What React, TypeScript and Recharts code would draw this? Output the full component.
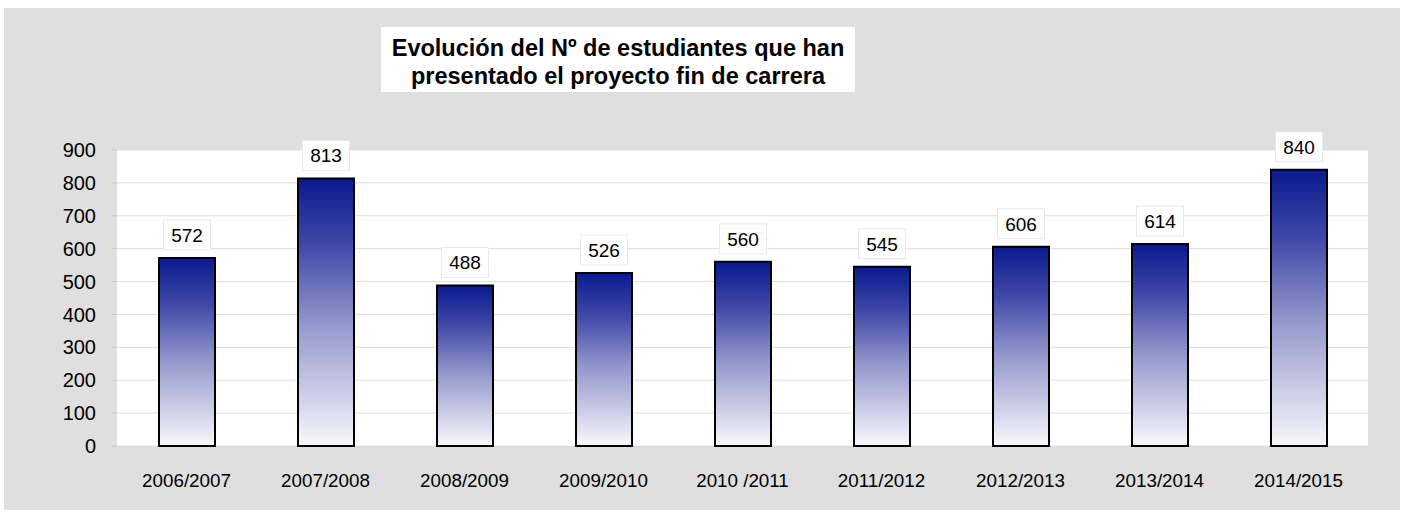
import React from "react";
import { BarChart, Bar, XAxis, YAxis, CartesianGrid, LabelList } from "recharts";

const seasons = [
  "2006/2007",
  "2007/2008",
  "2008/2009",
  "2009/2010",
  "2010 /2011",
  "2011/2012",
  "2012/2013",
  "2013/2014",
  "2014/2015",
];
const students = [572, 813, 488, 526, 560, 545, 606, 614, 840];
const yTicks = [0, 100, 200, 300, 400, 500, 600, 700, 800, 900];
const boundaryTicks = [0, 1, 2, 3, 4, 5, 6, 7, 8, 9];

const data = seasons.map((s, i) => ({ season: s, value: students[i] }));

const FONT = '"Liberation Sans", Arial, Helvetica, sans-serif';

function ValueBox(props: any) {
  const { x, y, width, value } = props;
  const cx = x + width / 2;
  const w = 47;
  const h = 30;
  const top = y - 8 - h;
  return (
    <g>
      <rect x={cx - w / 2} y={top} width={w} height={h} fill="#fff" stroke="#e8e8e8" strokeWidth={1} />
      <text
        x={cx}
        y={top + h / 2}
        dy="0.36em"
        textAnchor="middle"
        fontSize={19}
        fontFamily={FONT}
        fill="#000"
      >
        {value}
      </text>
    </g>
  );
}

export default function App() {
  return (
    <div
      style={{
        position: "absolute",
        left: 0,
        top: 0,
        width: 1407,
        height: 516,
        background: "#fff",
        fontFamily: FONT,
      }}
    >
      <div
        style={{
          position: "absolute",
          left: 4,
          top: 8,
          width: 1396,
          height: 502,
          background: "#dfdfdf",
        }}
      />
      <div
        style={{
          position: "absolute",
          left: 381,
          top: 27,
          width: 474,
          height: 65,
          background: "#fff",
          boxSizing: "border-box",
          paddingTop: 7,
          textAlign: "center",
          fontWeight: "bold",
          fontSize: 23.5,
          lineHeight: "28px",
          color: "#000",
          whiteSpace: "nowrap",
        }}
      >
        Evolución del Nº de estudiantes que han
        <br />
        presentado el proyecto fin de carrera
      </div>
      <div style={{ position: "absolute", left: 0, top: 0 }}>
        <BarChart
          width={1407}
          height={516}
          data={data}
          margin={{ top: 150, right: 39, bottom: 0, left: 0 }}
        >
          <defs>
            <linearGradient id="barFill" x1="0" y1="0" x2="0" y2="1">
              <stop offset="0%" stopColor="#0a1a8e" />
              <stop offset="25%" stopColor="#4049a8" />
              <stop offset="55%" stopColor="#9598cc" />
              <stop offset="100%" stopColor="#f8f8fc" />
            </linearGradient>
          </defs>
          <CartesianGrid vertical={false} stroke="#dedede" fill="#fff" />
          <XAxis
            xAxisId="edges"
            type="number"
            domain={[0, 9]}
            ticks={boundaryTicks}
            height={0}
            tick={false}
            tickSize={5}
            tickLine={{ stroke: "#8a8a8a" }}
            axisLine={{ stroke: "#8a8a8a" }}
            allowDataOverflow
          />
          <XAxis
            dataKey="season"
            height={70}
            tickSize={0}
            tickMargin={28}
            tickLine={false}
            axisLine={false}
            interval={0}
            tick={{ fontSize: 18.8, fill: "#000", fontFamily: FONT }}
          />
          <YAxis
            width={117}
            domain={[0, 900]}
            ticks={yTicks}
            interval={0}
            tickSize={5}
            tickMargin={16}
            tickLine={{ stroke: "#c8c8c8" }}
            axisLine={false}
            tick={{ fontSize: 20, fill: "#000", fontFamily: FONT }}
          />
          <Bar
            dataKey="value"
            barSize={56}
            fill="url(#barFill)"
            stroke="#000"
            strokeWidth={2}
            isAnimationActive={false}
          >
            <LabelList dataKey="value" content={<ValueBox />} />
          </Bar>
        </BarChart>
      </div>
    </div>
  );
}
